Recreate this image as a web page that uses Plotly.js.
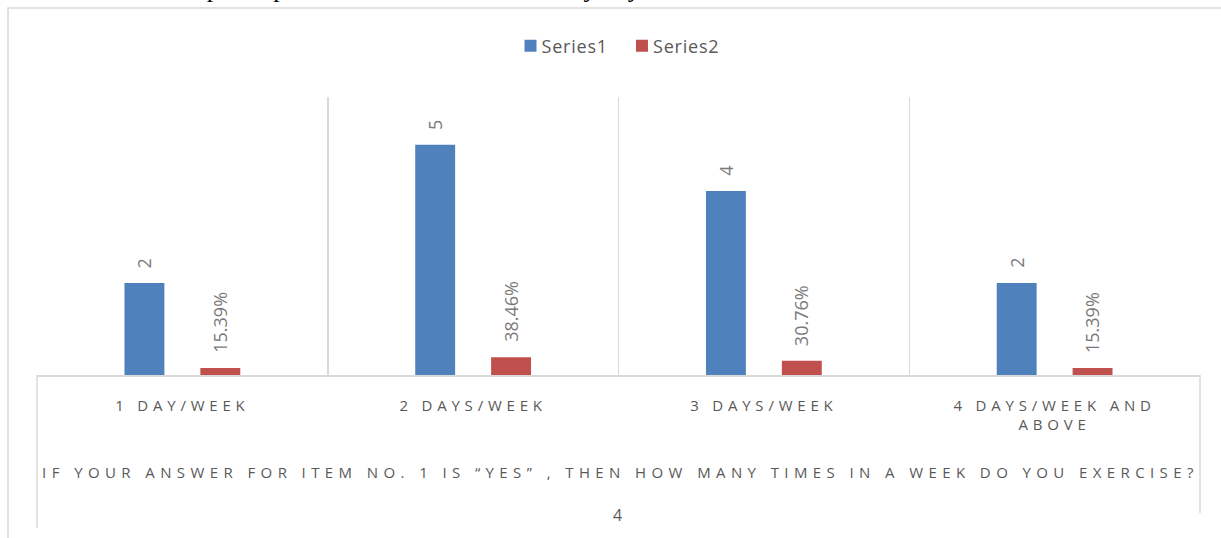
<!DOCTYPE html>
<html>
<head>
<meta charset="utf-8">
<script src="https://cdn.plot.ly/plotly-3.0.1.min.js"></script>
<style>
  html, body { margin: 0; padding: 0; background: #fff; }
  #chart { width: 1221px; height: 538px; }
  .xtick text { letter-spacing: 4.8px; }
  .annotation[data-index="1"] text { letter-spacing: 5.4px; }
  .legendtext { letter-spacing: 0.8px; transform: translateX(-9px); }
</style>
</head>
<body>
<div id="chart"></div>
<script>
// data
var categories = ['1 DAY/WEEK', '2 DAYS/WEEK', '3 DAYS/WEEK', '4 DAYS/WEEK AND<br>ABOVE'];
var series1 = [2, 5, 4, 2];
var series2 = [0.1539, 0.3846, 0.3076, 0.1539];

var colors = ['#4f81bd', '#c0504d'];
var grey = '#d9d9d9';
var textGrey = '#595959';
var labelGrey = '#7a7a7a';

var W = 1221, H = 538;
var mar = {l: 37, r: 21, t: 97, b: 163};
var bargap = 0.478, bargroupgap = 0.474;

// helpers to turn pixel spots into paper coords
var plotW = W - mar.l - mar.r, plotH = H - mar.t - mar.b;
function px(x) { return (x - mar.l) / plotW; }
function py(y) { return (H - mar.b - y) / plotH; }

var trace1 = {
  x: categories, y: series1, type: 'bar', name: 'Series1',
  marker: {color: colors[0]}, hoverinfo: 'none'
};
var trace2 = {
  x: categories, y: series2, type: 'bar', name: 'Series2',
  marker: {color: colors[1]}, hoverinfo: 'none'
};

var annotations = [
  {
    // chart caption, cut off by the top of the page
    text: "Chart 5: Student's participation in a week for how many days",
    xref: 'paper', yref: 'paper', x: px(13), y: py(-11),
    xanchor: 'left', yanchor: 'middle', showarrow: false,
    font: {family: 'Liberation Serif, serif', size: 26, color: '#000'}
  },
  {
    text: 'IF YOUR ANSWER FOR ITEM NO. 1 IS \u201cYES\u201d , THEN HOW MANY TIMES IN A WEEK DO YOU EXERCISE?',
    xref: 'paper', yref: 'paper', x: px(620), y: py(472),
    xanchor: 'center', yanchor: 'middle', showarrow: false,
    font: {family: 'Open Sans, sans-serif', size: 15, color: textGrey}
  },
  {
    text: '4',
    xref: 'paper', yref: 'paper', x: px(617), y: py(515),
    xanchor: 'center', yanchor: 'middle', showarrow: false,
    font: {family: 'Open Sans, sans-serif', size: 16, color: textGrey}
  }
];

// data labels above the bars, rotated
var catPx = plotW / categories.length;
var off = catPx * (1 - bargap) / 4;
for (var i = 0; i < categories.length; i++) {
  annotations.push({
    x: categories[i], y: series1[i], xref: 'x', yref: 'y',
    text: String(series1[i]), textangle: -90, showarrow: false,
    xanchor: 'center', yanchor: 'bottom', xshift: -off, yshift: 13,
    font: {family: 'Open Sans, sans-serif', size: 18, color: labelGrey}
  });
  annotations.push({
    x: categories[i], y: series2[i], xref: 'x', yref: 'y',
    text: (series2[i] * 100).toFixed(2) + '%', textangle: -90, showarrow: false,
    xanchor: 'center', yanchor: 'bottom', xshift: off, yshift: 13,
    font: {family: 'Open Sans, sans-serif', size: 18, color: labelGrey}
  });
}

var shapes = [
  // outer chart frame
  {type: 'rect', xref: 'paper', yref: 'paper', x0: px(8), x1: px(1240), y0: py(560), y1: py(8),
   line: {color: grey, width: 1.5}, fillcolor: 'rgba(0,0,0,0)', layer: 'below'},
  // edge lines running down past the axis
  {type: 'line', xref: 'paper', yref: 'paper', x0: 0, x1: 0, y0: py(528), y1: 0,
   line: {color: grey, width: 1.5}},
  {type: 'line', xref: 'paper', yref: 'paper', x0: 1, x1: 1, y0: py(513), y1: 0,
   line: {color: grey, width: 1.5}}
];

var layout = {
  width: W, height: H,
  margin: mar,
  paper_bgcolor: '#fff', plot_bgcolor: '#fff',
  barmode: 'group', bargap: bargap, bargroupgap: bargroupgap,
  showlegend: true,
  legend: {
    orientation: 'h', x: px(622), y: py(46), xanchor: 'center', yanchor: 'middle',
    font: {family: 'Open Sans, sans-serif', size: 18, color: textGrey},
    itemclick: false
  },
  xaxis: {
    type: 'category', tickson: 'boundaries',
    showgrid: true, gridcolor: grey, gridwidth: 1.5,
    showline: true, linecolor: grey, linewidth: 1.5,
    ticks: '', ticklabelstandoff: 16,
    tickfont: {family: 'Open Sans, sans-serif', size: 15, color: textGrey},
    fixedrange: true
  },
  yaxis: {
    range: [0, 6.04], visible: false, showgrid: false, zeroline: false, fixedrange: true
  },
  annotations: annotations,
  shapes: shapes
};

Plotly.newPlot('chart', [trace1, trace2], layout, {staticPlot: true, displayModeBar: false});
</script>
</body>
</html>
